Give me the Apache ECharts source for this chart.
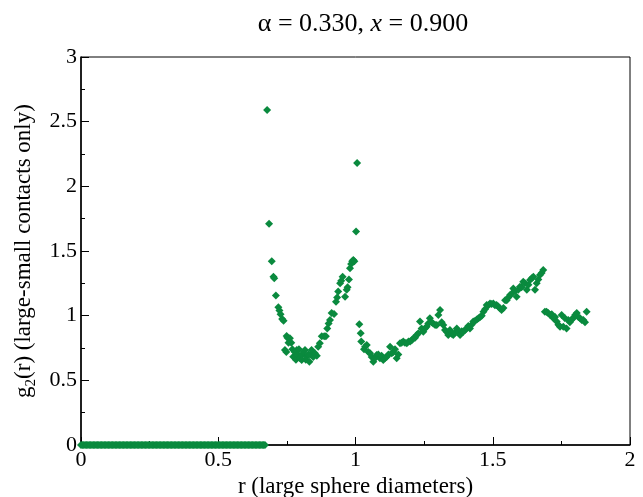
<!DOCTYPE html>
<html>
<head>
<meta charset="utf-8">
<script src="https://cdn.jsdelivr.net/npm/echarts@6/dist/echarts.min.js"></script>
<style>
  html, body { margin: 0; padding: 0; background: #fff; }
  #main { width: 643px; height: 497px; }
</style>
</head>
<body>
<div id="main"></div>
<script>
// r values where g2 is zero (below contact)
var zeroR = [0.000,0.005,0.010,0.015,0.020,0.025,0.030,0.035,0.040,0.045,0.050,0.055,0.060,0.065,0.070,0.075,0.080,0.085,0.090,0.095,
  0.100,0.105,0.110,0.115,0.120,0.125,0.130,0.135,0.140,0.145,0.150,0.155,0.160,0.165,0.170,0.175,0.180,0.185,0.190,0.195,
  0.200,0.205,0.210,0.215,0.220,0.225,0.230,0.235,0.240,0.245,0.250,0.255,0.260,0.265,0.270,0.275,0.280,0.285,0.290,0.295,
  0.300,0.305,0.310,0.315,0.320,0.325,0.330,0.335,0.340,0.345,0.350,0.355,0.360,0.365,0.370,0.375,0.380,0.385,0.390,0.395,
  0.400,0.405,0.410,0.415,0.420,0.425,0.430,0.435,0.440,0.445,0.450,0.455,0.460,0.465,0.470,0.475,0.480,0.485,0.490,0.495,
  0.500,0.505,0.510,0.515,0.520,0.525,0.530,0.535,0.540,0.545,0.550,0.555,0.560,0.565,0.570,0.575,0.580,0.585,0.590,0.595,
  0.600,0.605,0.610,0.615,0.620,0.625,0.630,0.635,0.640,0.645,0.650,0.655,0.660,0.665,0.670];

// r / g2 values above contact
var contactR = [0.678,0.685,0.695,0.701,0.704,0.710,0.719,0.723,0.727,0.733,0.738,0.743,0.748,0.749,0.752,0.756,0.761,0.766,
  0.770,0.773,0.779,0.783,0.786,0.790,0.794,0.798,0.804,0.807,0.810,0.816,0.819,0.822,0.828,0.832,0.836,0.840,0.846,0.852,
  0.859,0.864,0.870,0.877,0.886,0.892,
  0.897,0.902,0.907,0.913,0.922,0.929,0.933,0.937,0.944,0.948,0.953,0.962,0.968,0.971,0.976,0.980,0.984,0.988,0.992,0.996,
  1.002,1.006,1.014,1.019,1.021,1.031,1.035,1.041,1.047,1.053,1.059,1.065,1.071,1.077,1.083,1.089,1.095,1.101,1.107,1.114,
  1.120,1.126,1.132,1.138,1.144,1.150,1.156,1.162,1.168,1.174,1.180,1.187,1.193,1.199,1.205,1.211,1.217,1.223,1.229,1.235,
  1.241,1.247,1.253,1.259,1.265,1.271,1.277,1.283,1.290,1.296,1.302,1.308,1.314,1.320,1.326,1.332,1.338,1.344,1.350,1.356,
  1.362,1.369,1.375,1.381,1.387,1.393,1.399,1.405,1.411,1.417,1.423,1.429,1.436,1.442,1.448,1.454,1.460,1.466,1.472,1.478,
  1.484,1.490,1.496,1.502,1.508,1.514,1.520,1.526,1.532,1.539,1.545,1.551,1.557,1.563,1.569,1.575,1.581,1.587,1.593,1.599,
  1.605,1.611,1.617,1.624,1.630,1.636,1.642,1.648,1.654,1.660,1.666,1.672,1.678,1.684,
  1.690,1.696,1.702,1.709,1.715,1.721,1.727,1.733,1.739,1.745,1.751,1.757,1.763,1.769,1.775,1.781,1.787,1.793,1.800,1.806,
  1.812,1.818,1.824,1.830,1.836,1.842];
var contactG = [2.59,1.71,1.42,1.30,1.29,1.155,1.065,1.04,1.01,0.975,0.96,0.735,0.72,0.843,0.83,0.79,0.825,0.79,
  0.74,0.683,0.72,0.66,0.735,0.70,0.74,0.67,0.657,0.70,0.72,0.735,0.66,0.683,0.70,0.644,0.70,0.735,0.68,0.709,
  0.69,0.76,0.787,0.84,0.84,0.84,
  0.90,0.94,0.967,1.02,1.013,1.108,1.14,1.186,1.25,1.27,1.30,1.147,1.20,1.22,1.28,1.366,1.40,1.42,1.43,1.42,
  1.65,2.18,0.933,0.864,0.80,0.74,0.76,0.773,0.72,0.709,0.68,0.644,0.67,0.696,0.70,0.67,0.69,0.657,0.67,0.683,
  0.70,0.76,0.709,0.72,0.74,0.67,0.70,0.787,0.79,0.80,0.79,0.787,0.80,0.80,0.81,0.825,0.83,0.85,0.864,0.954,
  0.90,0.876,0.90,0.915,0.94,0.98,0.95,0.94,0.928,0.928,1.005,1.044,0.95,0.928,0.89,0.876,0.85,0.89,0.86,0.85,
  0.87,0.90,0.876,0.85,0.88,0.876,0.89,0.90,0.92,0.90,0.93,0.954,0.96,0.97,0.98,0.99,1.00,1.03,1.05,1.083,
  1.08,1.095,1.09,1.095,1.08,1.083,1.07,1.057,1.044,1.06,1.12,1.12,1.14,1.16,1.17,1.21,1.19,1.147,1.20,1.224,
  1.22,1.263,1.25,1.20,1.24,1.276,1.29,1.30,1.20,1.25,1.28,1.315,1.33,1.353,
  1.03,1.03,1.02,1.005,1.01,0.98,0.99,0.954,0.93,0.915,1.005,0.915,0.98,0.90,0.967,0.95,0.97,0.98,1.005,1.02,
  0.99,0.98,0.967,0.967,0.95,1.03];

var points = zeroR.map(function (r) { return [r, 0]; });
for (var i = 0; i < contactR.length; i++) {
  points.push([contactR[i], contactG[i]]);
}

var chart = echarts.init(document.getElementById('main'));
var serif = '"Liberation Serif", "DejaVu Serif", serif';
chart.setOption({
  animation: false,
  backgroundColor: '#fff',
  title: {
    text: '{a|α = 0.330, }{i|x}{a| = 0.900}',
    left: 358,
    top: 6,
    textAlign: 'center',
    textStyle: {
      fontWeight: 'normal',
      rich: {
        a: { fontFamily: serif, fontSize: 26, fontWeight: 'normal', color: '#000' },
        i: { fontFamily: serif, fontSize: 26, fontWeight: 'normal', fontStyle: 'italic', color: '#000' }
      }
    }
  },
  grid: {
    left: 81, right: 13, top: 57, bottom: 52,
    outerBoundsMode: 'none',
    containLabel: false,
    show: true, borderColor: '#000', borderWidth: 1
  },
  xAxis: {
    type: 'value', min: 0, max: 2, interval: 0.5,
    name: 'r (large sphere diameters)',
    nameLocation: 'middle', nameGap: 22,
    nameTextStyle: { fontFamily: serif, fontSize: 23, color: '#000' },
    axisLine: { lineStyle: { color: '#000', width: 1.5 } },
    axisTick: { inside: true, length: 8, lineStyle: { color: '#000' } },
    minorTick: { show: true, splitNumber: 2, length: 4, lineStyle: { color: '#000' } },
    axisLabel: { fontFamily: serif, fontSize: 22, color: '#000', margin: 4 },
    splitLine: { show: false }
  },
  yAxis: {
    type: 'value', min: 0, max: 3, interval: 0.5,
    name: '{m|g}{s|2}{m|(r) (large-small contacts only)}',
    nameLocation: 'middle', nameGap: 40, nameRotate: 90,
    nameTextStyle: {
      rich: {
        m: { fontFamily: serif, fontSize: 23, color: '#000', lineHeight: 30 },
        s: { fontFamily: serif, fontSize: 15, color: '#000', verticalAlign: 'bottom', lineHeight: 16 }
      }
    },
    axisLine: { lineStyle: { color: '#000', width: 1.5 } },
    axisTick: { inside: true, length: 8, lineStyle: { color: '#000' } },
    minorTick: { show: true, splitNumber: 2, length: 4, lineStyle: { color: '#000' } },
    axisLabel: { fontFamily: serif, fontSize: 22, color: '#000', margin: 4 },
    splitLine: { show: false }
  },
  series: [{
    type: 'scatter',
    symbol: 'diamond',
    symbolSize: 8,
    itemStyle: { color: '#0a8a3e', opacity: 1 },
    data: points
  }]
});
</script>
</body>
</html>
